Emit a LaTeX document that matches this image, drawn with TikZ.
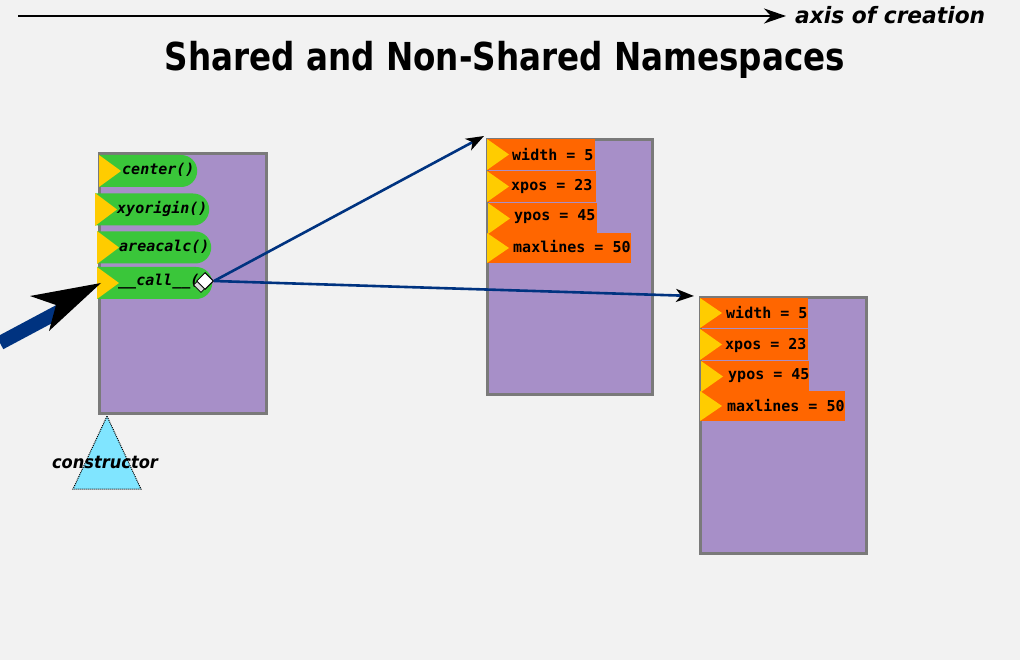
\documentclass[tikz,border=0pt]{standalone}
\usepackage{fontspec}
\usepackage{graphicx}
\setmainfont{DejaVu Sans}
\newfontfamily\monofnt{DejaVu Sans Mono}
\usetikzlibrary{arrows.meta,shapes.misc,shapes.geometric}
\definecolor{bg}{HTML}{F2F2F2}
\definecolor{boxfill}{HTML}{A78FC8}
\definecolor{boxline}{HTML}{7A7A7A}
\definecolor{pillgreen}{HTML}{3AC63A}
\definecolor{rowor}{HTML}{FF6600}
\definecolor{tri}{HTML}{FFCC00}
\definecolor{cyanish}{HTML}{80E5FF}
\definecolor{navy}{HTML}{003380}
\tikzset{
  nsbox/.style={draw=boxline, line width=2.8pt, fill=boxfill, minimum width=167pt, minimum height=260pt, anchor=north west, inner sep=0pt},
  pill/.style={rounded rectangle, rounded rectangle left arc=none, fill=pillgreen, minimum height=32pt, inner sep=0pt, anchor=west},
  row/.style={fill=rowor, minimum height=31pt, inner sep=0pt, anchor=north west},
  mtext/.style={font=\monofnt\bfseries\itshape\fontsize{15}{16}\selectfont, anchor=west, inner sep=0pt},
  rtext/.style={font=\monofnt\bfseries\fontsize{15}{16}\selectfont, anchor=west, inner sep=0pt},
  link/.style={draw=navy, line width=2.6pt, -{Stealth[black,length=18pt,width=13pt,inset=5pt]}},
}
\newcommand{\yeltri}[3]{\fill[tri] (#1,#2) -- (#1,#3) -- ({#1+22},{(#2+#3)/2}) -- cycle;}
\begin{document}
\begin{tikzpicture}[x=1pt,y=-1pt]
\fill[bg] (0,0) rectangle (1020,660);
\useasboundingbox (0,0) rectangle (1020,660);

% axis
\coordinate (axs) at (18,16);
\coordinate (axe) at (786,16);
\draw[line width=2.6pt, -{Stealth[length=22pt,width=15pt,inset=7pt]}] (axs) -- (axe);
\node[anchor=west, inner sep=0pt, font=\bfseries\itshape\fontsize{22.5}{24}\selectfont] (axl) at (795,15) {\resizebox{190pt}{\height}{axis of creation}};

% title
\node[inner sep=0pt, font=\bfseries\fontsize{38.5}{40}\selectfont] (title) at (505,60) {\resizebox{680pt}{\height}{Shared and Non-Shared Namespaces}};

% box 1
\node[nsbox] (b1) at (98,152) {};
\node[pill, minimum width=98pt] (p1) at (99,171) {};
\yeltri{99}{155}{187}
\node[mtext] (t1) at (122,170) {center()};
\node[pill, minimum width=114pt] (p2) at (95,209.5) {};
\yeltri{95}{193}{226}
\node[mtext] (t2) at (117,208.5) {xyorigin()};
\node[pill, minimum width=114pt] (p3) at (97,247.5) {};
\yeltri{97}{231}{264}
\node[mtext] (t3) at (119,246.5) {areacalc()};
\node[pill, minimum width=115pt] (p4) at (97,283) {};
\yeltri{97}{267}{299}
\node[mtext] (t4) at (118,282) {\_\_call\_\_(};

% box 2
\node[nsbox, minimum height=255pt, minimum width=165pt] (b2) at (486,138) {};
\node[row, minimum width=108pt] (r21) at (487,139) {};
\node[row, minimum width=109pt] (r22) at (487,171) {};
\node[row, minimum width=109pt] (r23) at (488,203) {};
\node[row, minimum width=144pt, minimum height=30pt] (r24) at (487,233) {};
\yeltri{487}{139}{170}
\yeltri{487}{171}{202}
\yeltri{488}{203}{234}
\yeltri{487}{233}{263}
\node[rtext] at (512,155) {width = 5};
\node[rtext] at (511,186) {xpos = 23};
\node[rtext] at (514,217) {ypos = 45};
\node[rtext] at (513,247) {maxlines = 50};

% box 3
\node[nsbox, minimum height=256pt, minimum width=166pt] (b3) at (699,296) {};
\node[row, minimum width=108pt, minimum height=30pt] (r31) at (700,298) {};
\node[row, minimum width=108pt] (r32) at (700,329) {};
\node[row, minimum width=108pt] (r33) at (701,361) {};
\node[row, minimum width=145pt, minimum height=30pt] (r34) at (700,391) {};
\yeltri{700}{298}{328}
\yeltri{700}{329}{360}
\yeltri{701}{361}{392}
\yeltri{700}{391}{421}
\node[rtext] at (726,313) {width = 5};
\node[rtext] at (725,345) {xpos = 23};
\node[rtext] at (728,376) {ypos = 45};
\node[rtext] at (727,406) {maxlines = 50};

% diamond
\node[diamond, fill=white!70!gray, draw=black, line width=0.7pt, minimum size=15pt, inner sep=0pt] (dsh) at (201,285) {};
\node[diamond, fill=white, draw=black, line width=1pt, minimum size=17pt, inner sep=0pt] (dia) at (205,281) {};

% links
\draw[link] (dia.east) -- ([xshift=-2pt,yshift=2pt]b2.north west);
\draw[link] (dia.east) -- ([xshift=-5pt]b3.north west);

% entry arrow
\coordinate (ein) at (0,343);
\coordinate (eout) at (60,311);
\draw[navy, line width=14pt] (ein) -- (eout);
\fill[black] (101,283) -- (30,296) -- (56,305) -- (49,331) -- cycle;

% constructor
\node[isosceles triangle, isosceles triangle apex angle=50, shape border rotate=90, fill=cyanish, draw=black, densely dotted, line width=1pt, minimum height=73pt, inner sep=0pt, anchor=apex] (ctor) at (107,415) {};
\node[inner sep=0pt, font=\bfseries\itshape\fontsize{17.5}{19}\selectfont] (ctorl) at (105,462) {\resizebox{106pt}{\height}{constructor}};
\end{tikzpicture}
\end{document}
